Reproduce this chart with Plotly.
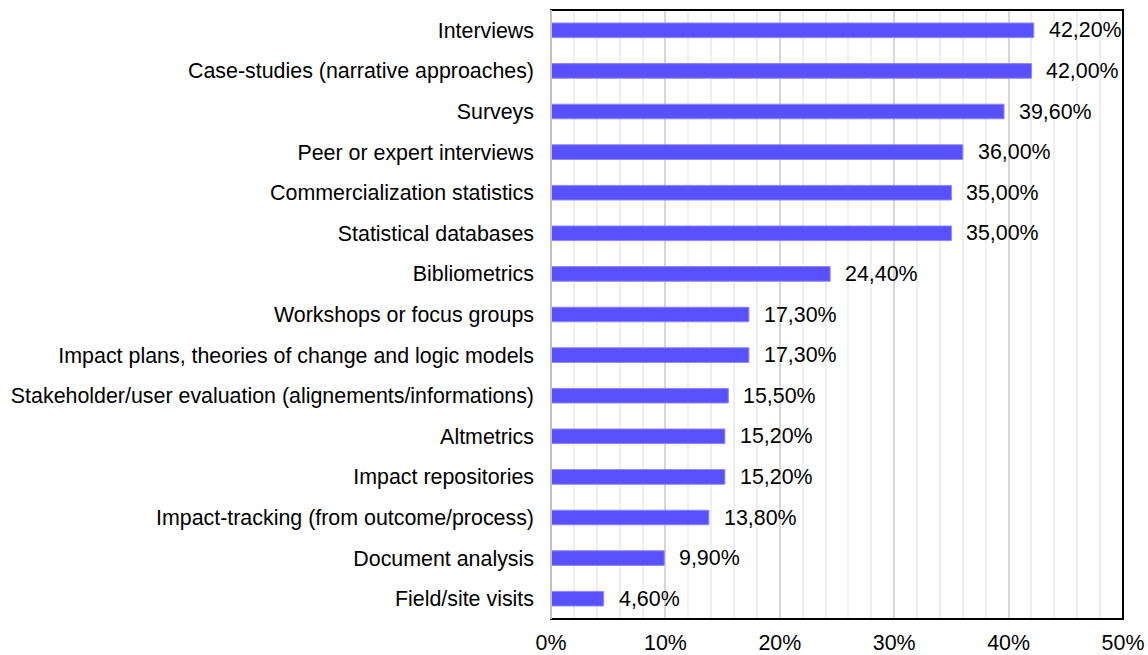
import plotly.graph_objects as go

categories = [
    "Interviews",
    "Case-studies (narrative approaches)",
    "Surveys",
    "Peer or expert interviews",
    "Commercialization statistics",
    "Statistical databases",
    "Bibliometrics",
    "Workshops or focus groups",
    "Impact plans, theories of change and logic models",
    "Stakeholder/user evaluation (alignements/informations)",
    "Altmetrics",
    "Impact repositories",
    "Impact-tracking (from outcome/process)",
    "Document analysis",
    "Field/site visits",
]
values = [42.2, 42.0, 39.6, 36.0, 35.0, 35.0, 24.4, 17.3, 17.3, 15.5, 15.2, 15.2, 13.8, 9.9, 4.6]
labels = [f"{v:.2f}".replace(".", ",") + "%" for v in values]
x_ticks = [0, 10, 20, 30, 40, 50]
x_tick_text = [f"{t}%" for t in x_ticks]

font = "Liberation Sans, Arial, sans-serif"
FS = 21.4

fig = go.Figure()
fig.add_trace(go.Bar(
    y=categories, x=values, orientation="h",
    marker=dict(color="#5950FF", line=dict(color="#8C87FF", width=1)),
    width=0.36,
    hoverinfo="skip",
))

for c, v, t in zip(categories, values, labels):
    fig.add_annotation(x=v, y=c, text=t, showarrow=False, xanchor="left",
                       xshift=13, font=dict(size=FS, color="#000000", family=font))

fig.update_layout(
    width=1148, height=655,
    margin=dict(l=551, r=25, t=10, b=36),
    plot_bgcolor="white", paper_bgcolor="white",
    showlegend=False,
    font=dict(family=font, size=FS, color="#000000"),
    shapes=[
        dict(type="rect", xref="paper", yref="paper", x0=0, x1=1, y0=0, y1=1,
             line=dict(color="#000000", width=2), layer="above"),
        dict(type="line", xref="paper", yref="paper", x0=0, x1=0, y0=0, y1=1,
             line=dict(color="#c0c0c0", width=2), layer="above"),
    ],
)
fig.update_xaxes(
    range=[0, 50], tickvals=x_ticks, ticktext=x_tick_text,
    showgrid=True, gridcolor="#d6d6d6", gridwidth=2,
    minor=dict(dtick=2, showgrid=True, gridcolor="#efefef", gridwidth=2),
    zeroline=False, showline=False,
    ticks="outside", ticklen=4, tickcolor="rgba(0,0,0,0)",
    fixedrange=True, automargin=False,
    tickfont=dict(size=FS),
)
fig.update_yaxes(
    categoryorder="array", categoryarray=categories[::-1],
    showgrid=False, zeroline=False, showline=False, ticks="",
    ticklabelstandoff=16, tickfont=dict(size=FS), automargin=False,
    range=[-0.5, len(categories) - 0.5],
)

fig.write_html("out.html")
